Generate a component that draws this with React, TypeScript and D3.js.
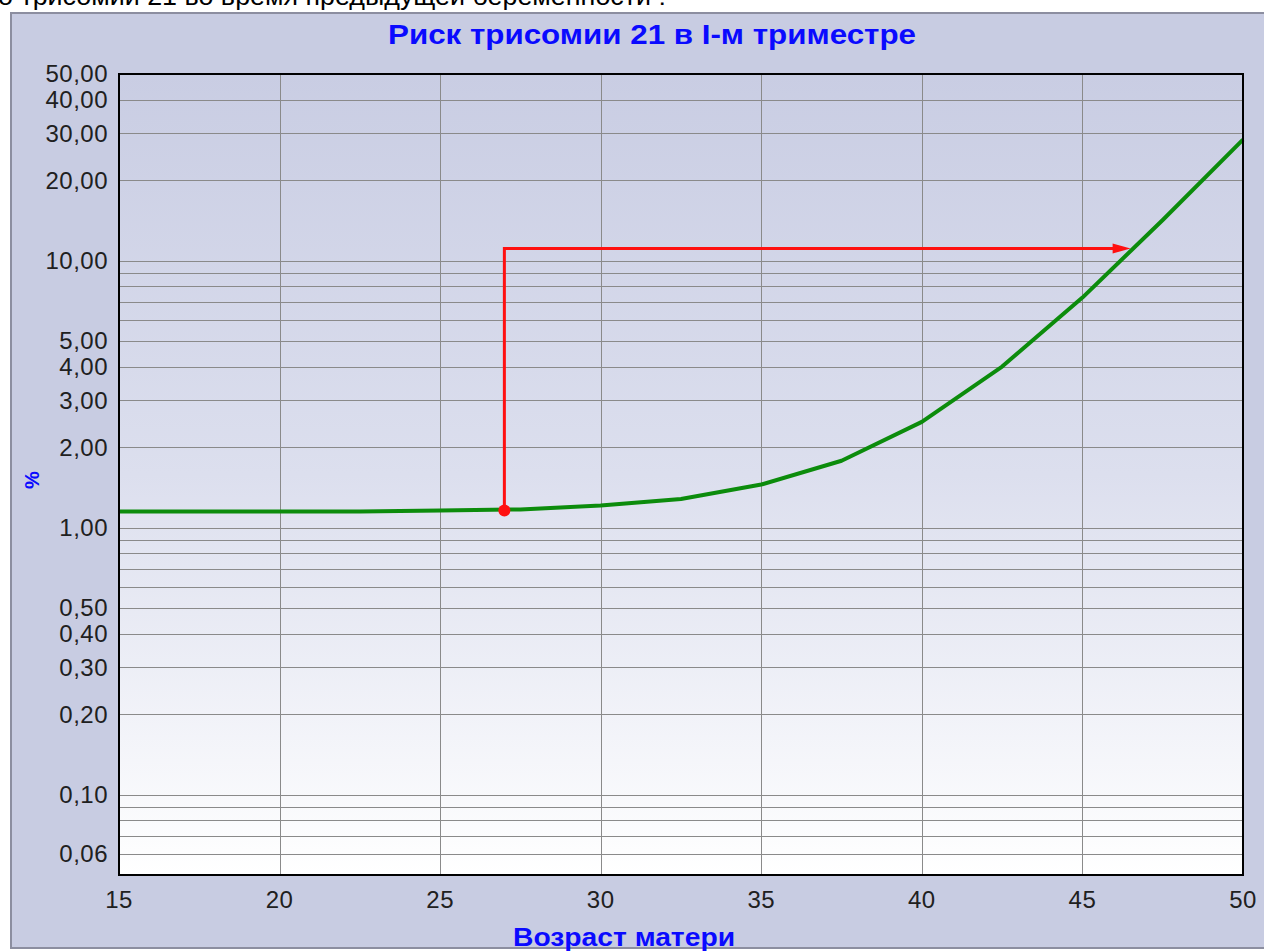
import React from "react";
import * as d3 from "d3";

const ages = [15, 20, 22.5, 25, 27.5, 30, 32.5, 35, 37.5, 40, 42.5, 45, 47.5, 50];
const riskPct = [1.15, 1.15, 1.15, 1.16, 1.17, 1.21, 1.28, 1.45, 1.78, 2.49, 4.01, 7.27, 14.2, 28.4];

const patientAge = 27;
const patientRisk = 1.16;
const markerRisk = 11.1;
const arrowAge = 46.5;

const xTicks = [15, 20, 25, 30, 35, 40, 45, 50];
const yGrid = [0.06, 0.07, 0.08, 0.09, 0.1, 0.2, 0.3, 0.4, 0.5, 0.6, 0.7, 0.8, 0.9, 1, 2, 3, 4, 5, 6, 7, 8, 9, 10, 20, 30, 40, 50];
const yLabels = [0.06, 0.1, 0.2, 0.3, 0.4, 0.5, 1, 2, 3, 4, 5, 10, 20, 30, 40, 50];

const title = "Риск трисомии 21 в I-м триместре";
const xTitle = "Возраст матери";
const yTitle = "%";
const topText = "о трисомии 21 во время предыдущей беременности :";

export default function App() {
  const W = 1264, H = 952;
  const L = 119, R = 1243, T = 74, B = 875;
  const x = d3.scaleLinear().domain([15, 50]).range([L, R]);
  const y = d3.scaleLog().domain([0.05, 50]).range([B, T]);
  const line = d3.line<number>().x((_, i) => x(ages[i])).y((d) => y(d));
  const fmt = (v: number) => d3.format(".2f")(v).replace(".", ",");
  const font = "Arial, 'Liberation Sans', sans-serif";
  const ax = x(arrowAge);
  const ay = y(markerRisk);
  return (
    <svg width={W} height={H} style={{ position: "absolute", left: 0, top: 0 }} fontFamily={font}>
      <defs>
        <linearGradient id="plotGrad" x1="0" y1="0" x2="0" y2="1">
          <stop offset="0" stopColor="#c9cde3" />
          <stop offset="0.5" stopColor="#dcdfee" />
          <stop offset="1" stopColor="#ffffff" />
        </linearGradient>
      </defs>
      <rect x={0} y={0} width={W} height={H} fill="#ffffff" />
      <text x={-2} y={5} fontSize={25} fill="#000" textLength={668} lengthAdjust="spacingAndGlyphs">{topText}</text>
      <rect x={11} y={13} width={W + 10} height={935} fill="#c8cce2" stroke="#8c8ea0" strokeWidth={2} />
      <rect x={L} y={T} width={R - L} height={B - T} fill="url(#plotGrad)" />
      {yGrid.map((v) => (
        <line key={"gy" + v} x1={L} x2={R} y1={Math.round(y(v)) + 0.5} y2={Math.round(y(v)) + 0.5} stroke="#8a8a8a" strokeWidth={1} />
      ))}
      {xTicks.map((v) => (
        <line key={"gx" + v} x1={Math.round(x(v)) + 0.5} x2={Math.round(x(v)) + 0.5} y1={T} y2={B} stroke="#8a8a8a" strokeWidth={1} />
      ))}
      <path d={line(riskPct) || ""} fill="none" stroke="#0c8c0c" strokeWidth={4} strokeLinejoin="round" />
      <path
        d={`M${x(patientAge)},${y(patientRisk)} V${ay} H${ax - 16}`}
        fill="none"
        stroke="#ff1010"
        strokeWidth={3}
      />
      <path d={`M${ax - 18},${ay - 5} L${ax},${ay} L${ax - 18},${ay + 5} Z`} fill="#ff1010" />
      <circle cx={x(patientAge)} cy={y(patientRisk)} r={6} fill="#ff1010" />
      <rect x={L} y={T} width={R - L} height={B - T} fill="none" stroke="#000" strokeWidth={2} />
      {yLabels.map((v) => (
        <text key={"yl" + v} x={108} y={y(v)} dy="0.35em" textAnchor="end" fontSize={24} fill="#202020" letterSpacing={0.5}>
          {fmt(v)}
        </text>
      ))}
      {xTicks.map((v) => (
        <text key={"xl" + v} x={x(v)} y={908} textAnchor="middle" fontSize={24} fill="#202020" letterSpacing={0.5}>
          {v}
        </text>
      ))}
      <text x={652} y={44} textAnchor="middle" fontSize={28} fontWeight="bold" fill="#0a0aff" textLength={528} lengthAdjust="spacingAndGlyphs">{title}</text>
      <text x={624} y={946} textAnchor="middle" fontSize={25} fontWeight="bold" fill="#0a0aff" textLength={222} lengthAdjust="spacingAndGlyphs">{xTitle}</text>
      <text transform="translate(39,480) rotate(-90)" textAnchor="middle" fontSize={20} fontWeight="bold" fill="#0a0aff">{yTitle}</text>
    </svg>
  );
}
